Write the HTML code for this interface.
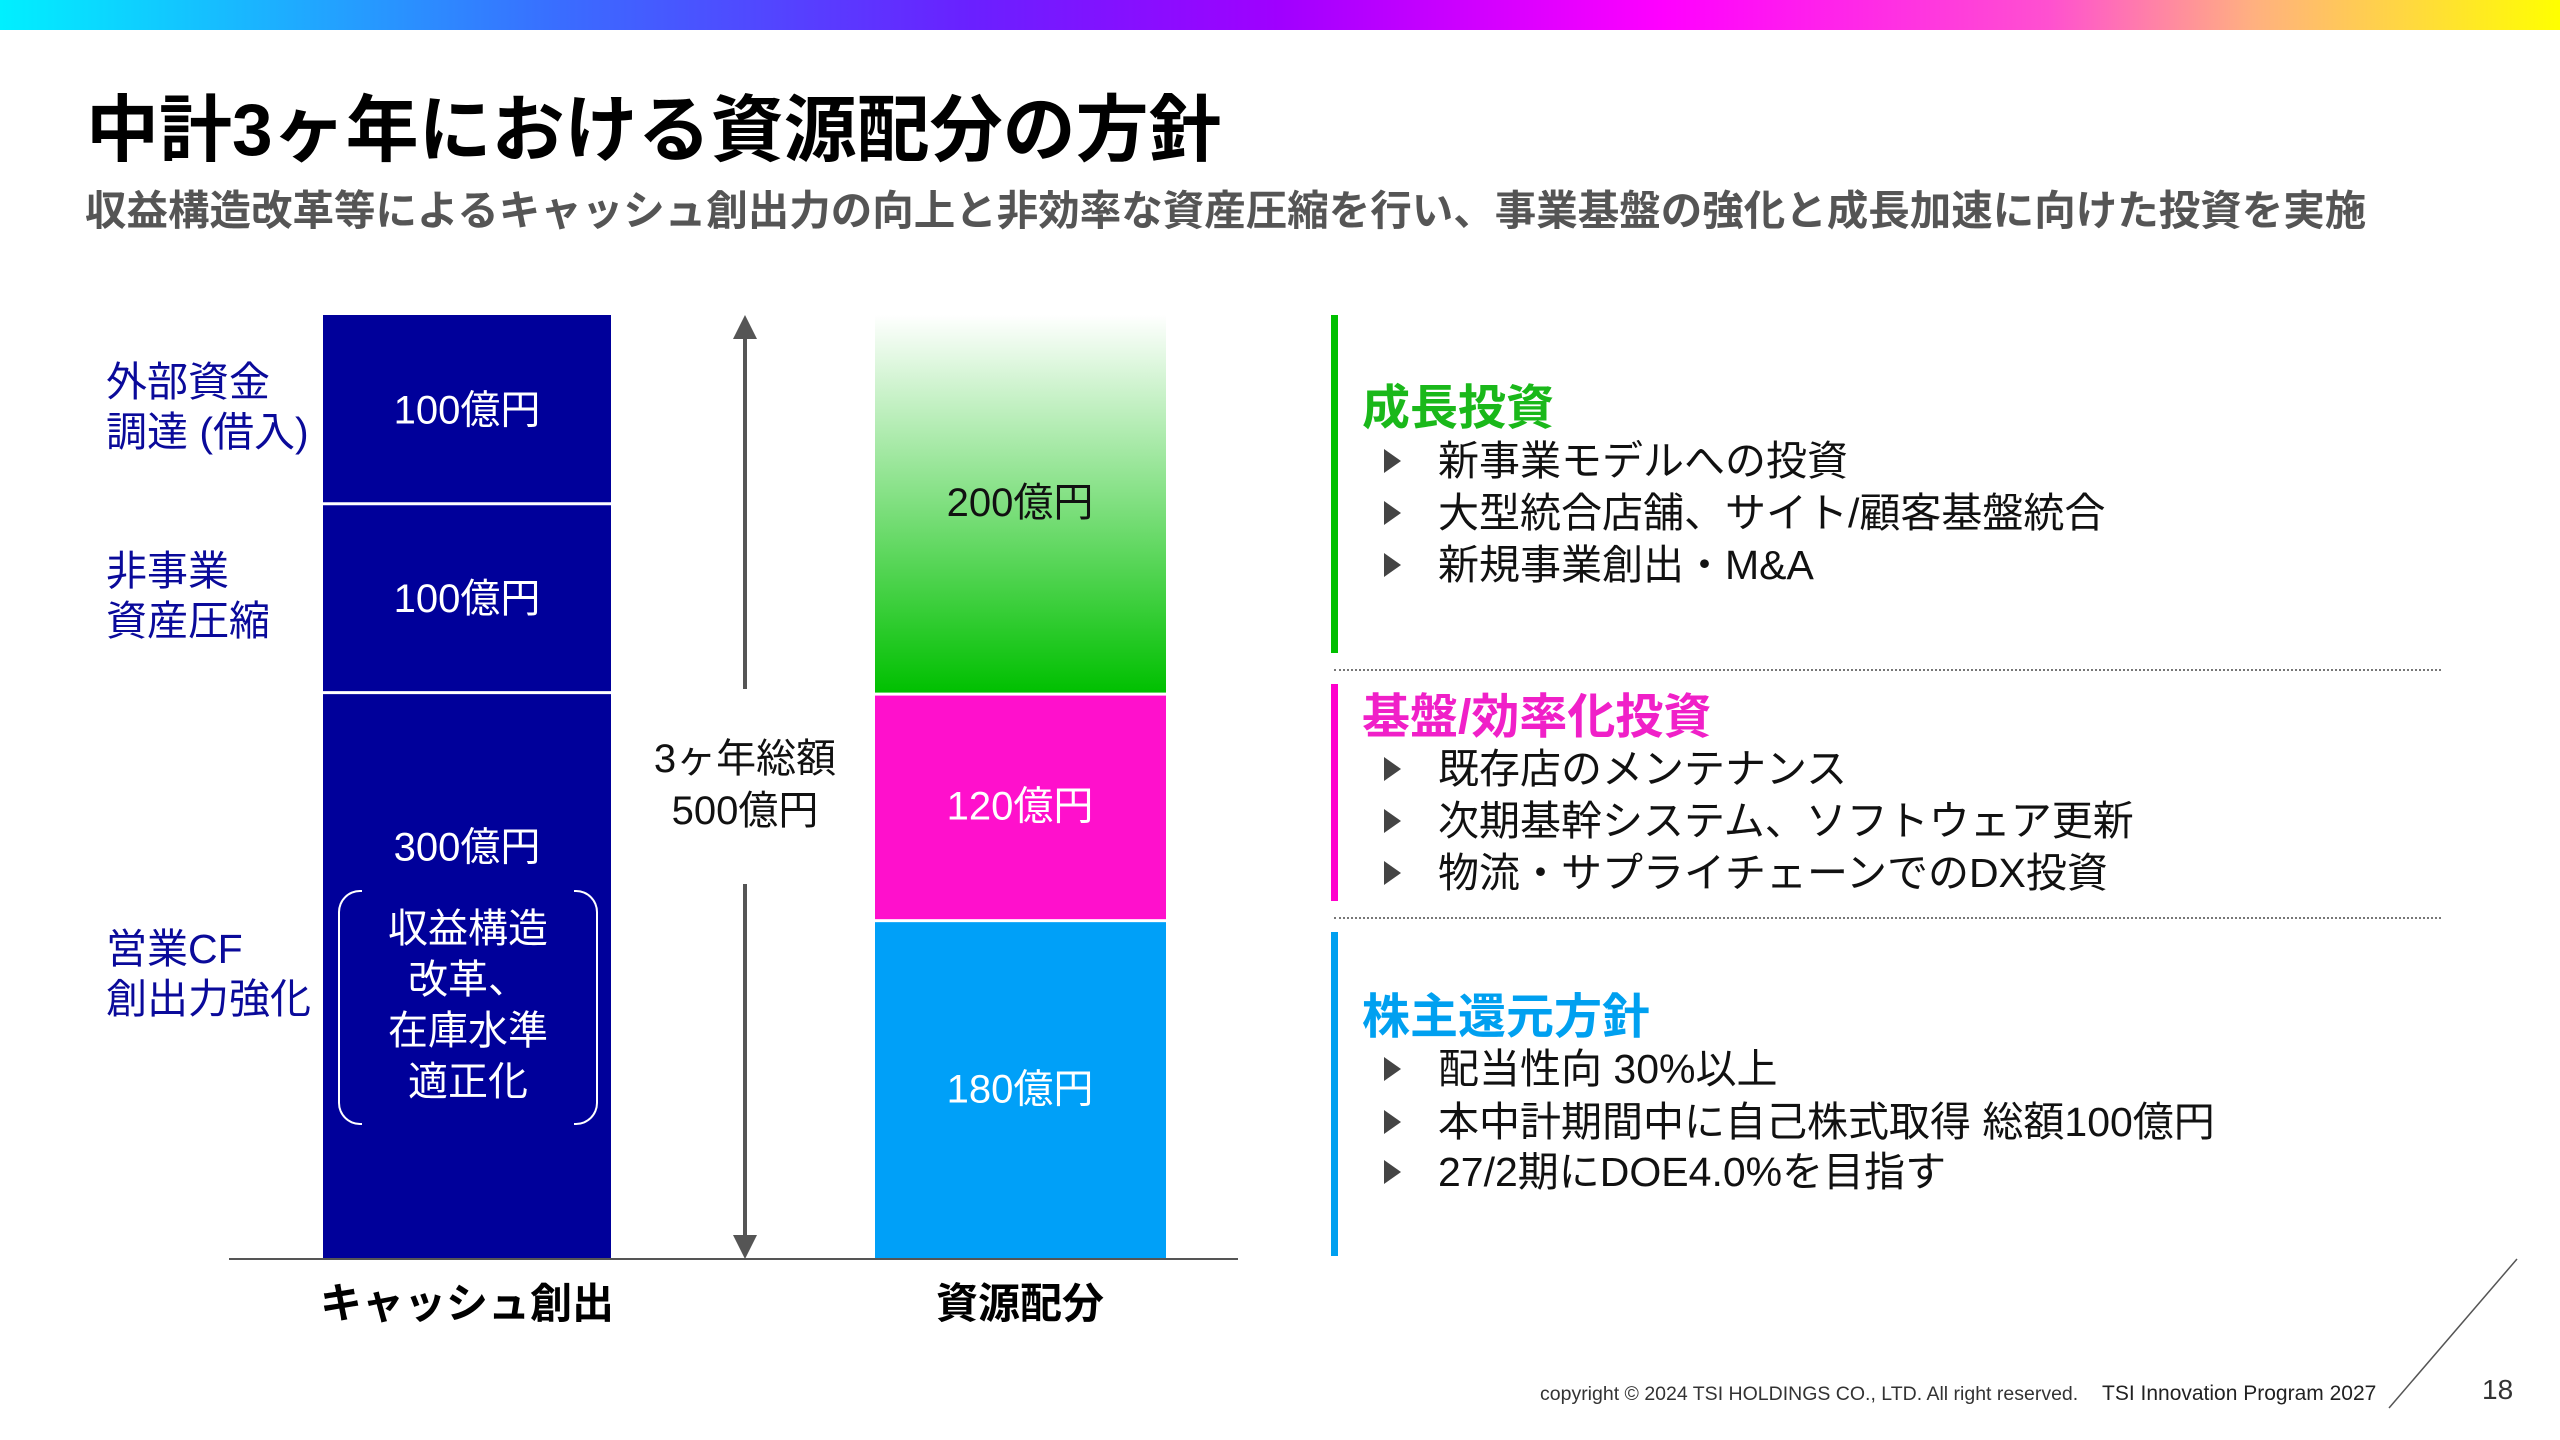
<!DOCTYPE html>
<html><head><meta charset="utf-8">
<style>
html,body{margin:0;padding:0;background:#fff;}
body{width:2560px;height:1440px;position:relative;overflow:hidden;font-family:"Liberation Sans","Noto Sans CJK JP",sans-serif;}
.a{position:absolute;white-space:nowrap;}
.lbl{color:#0a0a9a;font-size:41px;line-height:50px;}
.item{font-size:41px;color:#111;}
.tri{position:absolute;width:0;height:0;border-top:12px solid transparent;border-bottom:12px solid transparent;border-left:17px solid #444;}
</style></head><body>
<div class="a" style="left:0;top:0;width:2560px;height:30px;background:linear-gradient(90deg,#00f0ff 0%,#3a6cff 22%,#6a20ff 38%,#a000ff 50%,#ff00ff 65%,#ff50d0 80%,#ffb080 88%,#ffff00 100%);"></div>
<div class="a" style="left:86px;top:86px;font-size:73px;font-weight:bold;color:#000;line-height:90px;">中計3ヶ年における資源配分の方針</div>
<div class="a" style="left:85px;top:186px;font-size:41.5px;font-weight:bold;color:#555;line-height:50px;">収益構造改革等によるキャッシュ創出力の向上と非効率な資産圧縮を行い、事業基盤の強化と成長加速に向けた投資を実施</div>

<div class="a lbl" style="left:106px;top:357px;">外部資金<br>調達 (借入)</div>
<div class="a lbl" style="left:106px;top:546px;">非事業<br>資産圧縮</div>
<div class="a lbl" style="left:106px;top:924px;">営業CF<br>創出力強化</div>

<svg class="a" style="left:0;top:0" width="2560" height="1440">
<defs><linearGradient id="gg" x1="0" y1="0" x2="0" y2="1"><stop offset="0" stop-color="#ffffff"/><stop offset="1" stop-color="#00c000"/></linearGradient></defs>
<g id="bars"></g>
</svg>

<div class="a" style="left:338px;top:890px;width:260px;height:233px;">
 <div class="a" style="left:0;top:0;width:22px;height:231px;border:2px solid #fff;border-right:none;border-radius:22px 0 0 22px;"></div>
 <div class="a" style="right:0;top:0;width:22px;height:231px;border:2px solid #fff;border-left:none;border-radius:0 22px 22px 0;"></div>
 <div class="a" style="left:0;top:14px;width:260px;text-align:center;color:#fff;font-size:40px;line-height:51px;">収益構造<br>改革、<br>在庫水準<br>適正化</div>
</div>

<div class="a" style="left:645px;top:733px;width:200px;text-align:center;font-size:40px;line-height:52px;color:#111;">3ヶ年総額<br>500億円</div>
<div class="a" style="left:287px;top:1270px;width:360px;text-align:center;font-size:42px;font-weight:bold;">キャッシュ創出</div>
<div class="a" style="left:880px;top:1270px;width:280px;text-align:center;font-size:42px;font-weight:bold;">資源配分</div>

<div class="a" style="left:1331px;top:315px;width:7px;height:338px;background:#00c000;"></div>
<div class="a" style="left:1362px;top:368px;font-size:48px;font-weight:bold;color:#1ab81a;">成長投資</div>
<div class="a" style="left:1334px;top:669px;width:1107px;border-top:2px dotted #777;"></div>
<div class="a" style="left:1331px;top:684px;width:7px;height:217px;background:#ff00cc;"></div>
<div class="a" style="left:1362px;top:677px;font-size:48px;font-weight:bold;color:#f020c8;">基盤/効率化投資</div>
<div class="a" style="left:1334px;top:917px;width:1107px;border-top:2px dotted #777;"></div>
<div class="a" style="left:1331px;top:932px;width:7px;height:324px;background:#00a0f0;"></div>
<div class="a" style="left:1362px;top:977px;font-size:48px;font-weight:bold;color:#00a0f0;">株主還元方針</div>
<div id="items"></div>

<div class="a" style="left:1540px;top:1383px;font-size:19.5px;color:#333;">copyright © 2024 TSI HOLDINGS CO., LTD. All right reserved.</div>
<div class="a" style="left:2102px;top:1382px;font-size:21px;color:#222;">TSI Innovation Program 2027</div>
<svg class="a" style="left:0;top:0" width="2560" height="1440"><line x1="2389" y1="1408" x2="2517" y2="1259" stroke="#555" stroke-width="1.5"/></svg>
<div class="a" style="left:2482px;top:1374px;font-size:28px;color:#333;">18</div>

<script>
const cashLabels=["300億円","100億円","100億円"];
const cashValues=[300,100,100];
const allocLabels=["180億円","120億円","200億円"];
const allocValues=[180,120,200];
const total=500;
const items=[["新事業モデルへの投資","大型統合店舗、サイト/顧客基盤統合","新規事業創出・M&A"],["既存店のメンテナンス","次期基幹システム、ソフトウェア更新","物流・サプライチェーンでのDX投資"],["配当性向 30%以上","本中計期間中に自己株式取得 総額100億円","27/2期にDOE4.0%を目指す"]];

const NS="http://www.w3.org/2000/svg";
const base=1259, top0=315;
const y=v=>base-(v/total)*(base-top0);
const g=document.getElementById('bars');
function mk(t,attrs){const e=document.createElementNS(NS,t);for(const k in attrs)e.setAttribute(k,attrs[k]);g.appendChild(e);return e;}
let acc=0;
cashValues.forEach((v,i)=>{
 const r=mk('rect',{x:323,y:y(acc+v),width:288,height:y(acc)-y(acc+v),fill:'#00009a'});
 
 
 if(i>0){mk('line',{x1:323,x2:611,y1:y(acc),y2:y(acc),stroke:'#fff','stroke-width':3});}
 const ty=i===0?y(acc+v)+168:(y(acc)+y(acc+v))/2+14;
 const t=mk('text',{x:467,y:ty,'text-anchor':'middle',fill:'#fff','font-size':40});
 t.textContent=cashLabels[i];
 
 
 acc+=v;
});
const fills=['#00a0f8','#ff10cc','url(#gg)'];
const tcol=['#fff','#fff','#111'];
acc=0;
allocValues.forEach((v,i)=>{
 const y1=y(acc+v)+(i<2?3:0), y2=y(acc);
 const r=mk('rect',{x:875,y:y1,width:291,height:y2-y1,fill:fills[i]});
 
 
 const t=mk('text',{x:1020,y:(y1+y2)/2+12,'text-anchor':'middle',fill:tcol[i],'font-size':40});
 t.textContent=allocLabels[i];
 
 
 acc+=v;
});
const ax=mk('line',{x1:229,x2:1238,y1:base,y2:base,stroke:'#555','stroke-width':2});


mk('line',{x1:745,x2:745,y1:top0+18,y2:689,stroke:'#555','stroke-width':4});
mk('line',{x1:745,x2:745,y1:884,y2:base-18,stroke:'#555','stroke-width':4});
mk('polygon',{points:`733,${top0+24} 745,${top0} 757,${top0+24}`,fill:'#555'});
mk('polygon',{points:`733,${base-24} 745,${base} 757,${base-24}`,fill:'#555'});

const ys=[[461,513,565],[769,821,873],[1069,1122,1172]];
const box=document.getElementById('items');
items.forEach((grp,gi)=>grp.forEach((txt,ii)=>{
 const tr=document.createElement('div');tr.className='tri';
 tr.style.left='1384px';tr.style.top=(ys[gi][ii]-12)+'px';
 
 
 box.appendChild(tr);
 const d=document.createElement('div');d.className='a item';
 d.style.left='1438px';d.style.top=(ys[gi][ii]-30)+'px';d.style.lineHeight='60px';
 d.textContent=txt;
 
 
 box.appendChild(d);
}));
</script>
</body></html>
